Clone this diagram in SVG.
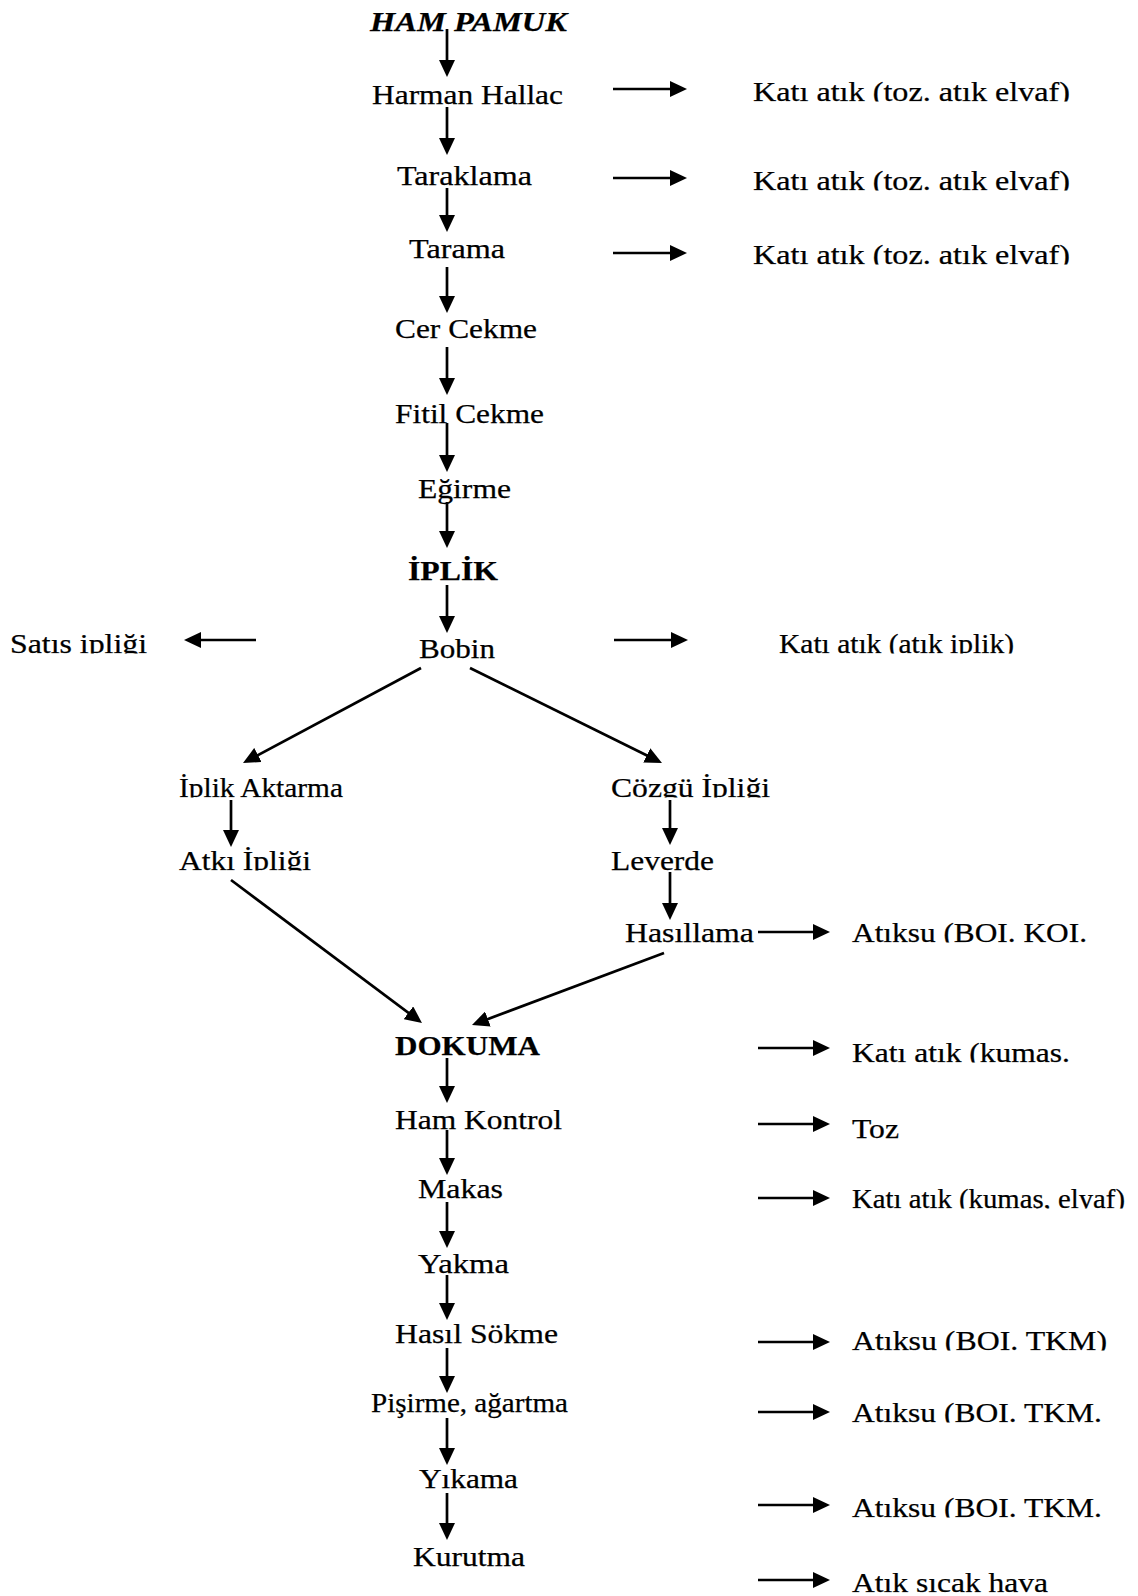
<svg xmlns="http://www.w3.org/2000/svg" width="1138" height="1596" viewBox="0 0 1138 1596">
<style>
text{font-family:"Liberation Serif","Times New Roman",serif;font-size:28px;fill:#000;stroke:#000;stroke-width:0.25}
.b{font-weight:bold}
.bi{font-weight:bold;font-style:italic}
.c line{stroke:#000;stroke-width:2.7;marker-end:url(#ah)}
.cut{clip-path:url(#cl)}
</style>
<defs>
<marker id="ah" markerUnits="userSpaceOnUse" markerWidth="17" markerHeight="16" refX="11" refY="8" orient="auto">
<path d="M0,0 L17,8 L0,16 z" fill="#000"/>
</marker>
<clipPath id="cl" clipPathUnits="objectBoundingBox"><rect x="-0.1" y="-0.5" width="1.2" height="1.325"/></clipPath>
</defs>
<rect width="1138" height="1596" fill="#fff"/>
<g id="connectors" class="c">
<line x1="447" y1="29" x2="447" y2="71"/>
<line x1="447" y1="107" x2="447" y2="149"/>
<line x1="447" y1="188" x2="447" y2="226"/>
<line x1="447" y1="267" x2="447" y2="307"/>
<line x1="447" y1="347" x2="447" y2="389"/>
<line x1="447" y1="423" x2="447" y2="466"/>
<line x1="447" y1="502" x2="447" y2="542"/>
<line x1="447" y1="585" x2="447" y2="627"/>
<line x1="231" y1="800" x2="231" y2="841"/>
<line x1="670" y1="800" x2="670" y2="839"/>
<line x1="670" y1="872" x2="670" y2="914"/>
<line x1="447" y1="1058" x2="447" y2="1097"/>
<line x1="447" y1="1130" x2="447" y2="1169"/>
<line x1="447" y1="1202" x2="447" y2="1242"/>
<line x1="447" y1="1275" x2="447" y2="1314"/>
<line x1="447" y1="1348" x2="447" y2="1387"/>
<line x1="447" y1="1418" x2="447" y2="1459"/>
<line x1="447" y1="1493" x2="447" y2="1534"/>
<line x1="613" y1="89" x2="681" y2="89"/>
<line x1="613" y1="178" x2="681" y2="178"/>
<line x1="613" y1="253" x2="681" y2="253"/>
<line x1="614" y1="640" x2="682" y2="640"/>
<line x1="256" y1="640" x2="190" y2="640"/>
<line x1="758" y1="932" x2="824" y2="932"/>
<line x1="758" y1="1048" x2="824" y2="1048"/>
<line x1="758" y1="1124" x2="824" y2="1124"/>
<line x1="758" y1="1198" x2="824" y2="1198"/>
<line x1="758" y1="1342" x2="824" y2="1342"/>
<line x1="758" y1="1412" x2="824" y2="1412"/>
<line x1="758" y1="1505" x2="824" y2="1505"/>
<line x1="758" y1="1580" x2="824" y2="1580"/>
<line x1="421" y1="668" x2="248.3" y2="760.2"/>
<line x1="470" y1="668" x2="656.6" y2="760.3"/>
<line x1="231" y1="880" x2="417.2" y2="1019.4"/>
<line x1="664" y1="953" x2="477.6" y2="1022.9"/>
</g>
<g id="n-ham-pamuk"><text class="bi" x="370" y="31" textLength="197" lengthAdjust="spacingAndGlyphs">HAM PAMUK</text></g>
<g id="n-harman"><text x="372" y="104" textLength="191" lengthAdjust="spacingAndGlyphs">Harman Hallac</text></g>
<g id="n-taraklama"><text x="397" y="185" textLength="135" lengthAdjust="spacingAndGlyphs">Taraklama</text></g>
<g id="n-tarama"><text x="409" y="258" textLength="96" lengthAdjust="spacingAndGlyphs">Tarama</text></g>
<g id="n-cer"><text x="395" y="338" textLength="142" lengthAdjust="spacingAndGlyphs">Cer Cekme</text></g>
<g id="n-fitil"><text x="395" y="423" textLength="149" lengthAdjust="spacingAndGlyphs">Fitil Cekme</text></g>
<g id="n-egirme"><text x="418" y="498" textLength="93" lengthAdjust="spacingAndGlyphs">Eğirme</text></g>
<g id="n-iplik"><text class="b" x="408" y="580" textLength="90" lengthAdjust="spacingAndGlyphs">İPLİK</text></g>
<g id="n-bobin"><text x="419" y="658" textLength="76" lengthAdjust="spacingAndGlyphs">Bobin</text></g>
<g id="n-satis"><text class="cut" x="10" y="653" textLength="137" lengthAdjust="spacingAndGlyphs">Satıs ipliği</text></g>
<g id="n-atik-iplik"><text class="cut" x="779" y="653" textLength="235" lengthAdjust="spacingAndGlyphs">Katı atık (atık iplik)</text></g>
<g id="n-w1"><text class="cut" x="753" y="101" textLength="317" lengthAdjust="spacingAndGlyphs">Katı atık (toz. atık elvaf)</text></g>
<g id="n-w2"><text class="cut" x="753" y="190" textLength="317" lengthAdjust="spacingAndGlyphs">Katı atık (toz. atık elvaf)</text></g>
<g id="n-w3"><text class="cut" x="753" y="264" textLength="317" lengthAdjust="spacingAndGlyphs">Katı atık (toz. atık elvaf)</text></g>
<g id="n-aktarma"><text class="cut" x="179" y="797" textLength="164" lengthAdjust="spacingAndGlyphs">İplik Aktarma</text></g>
<g id="n-cozgu"><text class="cut" x="611" y="797" textLength="159" lengthAdjust="spacingAndGlyphs">Cözgü İpliği</text></g>
<g id="n-atki"><text class="cut" x="179" y="870" textLength="132" lengthAdjust="spacingAndGlyphs">Atkı İpliği</text></g>
<g id="n-leverde"><text x="611" y="870" textLength="103" lengthAdjust="spacingAndGlyphs">Leverde</text></g>
<g id="n-hasillama"><text x="625" y="942" textLength="129" lengthAdjust="spacingAndGlyphs">Hasıllama</text></g>
<g id="n-w4"><text class="cut" x="852" y="942" textLength="235" lengthAdjust="spacingAndGlyphs">Atıksu (BOI. KOI.</text></g>
<g id="n-dokuma"><text class="b" x="395" y="1055" textLength="145" lengthAdjust="spacingAndGlyphs">DOKUMA</text></g>
<g id="n-w5"><text class="cut" x="852" y="1062" textLength="218" lengthAdjust="spacingAndGlyphs">Katı atık (kumas.</text></g>
<g id="n-hamkontrol"><text x="395" y="1129" textLength="167" lengthAdjust="spacingAndGlyphs">Ham Kontrol</text></g>
<g id="n-w6"><text x="852" y="1138" textLength="47" lengthAdjust="spacingAndGlyphs">Toz</text></g>
<g id="n-makas"><text x="418" y="1198" textLength="85" lengthAdjust="spacingAndGlyphs">Makas</text></g>
<g id="n-w7"><text class="cut" x="852" y="1208" textLength="273" lengthAdjust="spacingAndGlyphs">Katı atık (kumaş, elyaf)</text></g>
<g id="n-yakma"><text x="418" y="1273" textLength="91" lengthAdjust="spacingAndGlyphs">Yakma</text></g>
<g id="n-hasil"><text x="395" y="1343" textLength="163" lengthAdjust="spacingAndGlyphs">Hasıl Sökme</text></g>
<g id="n-w8"><text class="cut" x="852" y="1350" textLength="255" lengthAdjust="spacingAndGlyphs">Atıksu (BOI. TKM)</text></g>
<g id="n-pisirme"><text x="371" y="1412" textLength="197" lengthAdjust="spacingAndGlyphs">Pişirme, ağartma</text></g>
<g id="n-w9"><text class="cut" x="852" y="1422" textLength="250" lengthAdjust="spacingAndGlyphs">Atıksu (BOI. TKM.</text></g>
<g id="n-yikama"><text x="419" y="1488" textLength="99" lengthAdjust="spacingAndGlyphs">Yıkama</text></g>
<g id="n-w10"><text class="cut" x="852" y="1517" textLength="250" lengthAdjust="spacingAndGlyphs">Atıksu (BOI. TKM.</text></g>
<g id="n-kurutma"><text x="413" y="1566" textLength="112" lengthAdjust="spacingAndGlyphs">Kurutma</text></g>
<g id="n-w11"><text class="cut" x="852" y="1592" textLength="196" lengthAdjust="spacingAndGlyphs">Atık sıcak hava</text></g>
</svg>
